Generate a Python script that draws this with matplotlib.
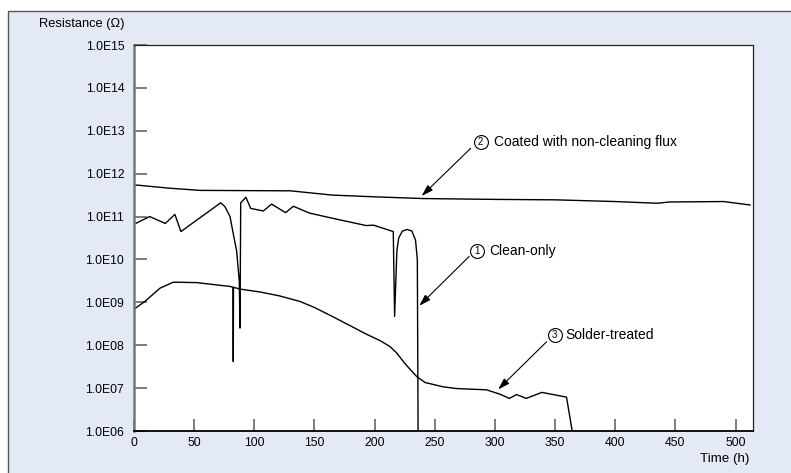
import matplotlib
matplotlib.use("Agg")
import matplotlib.pyplot as plt
from matplotlib.patches import Rectangle
import numpy as np

plt.rcParams['font.family'] = ['Liberation Sans', 'DejaVu Sans']

# ---------------- data (log10 of resistance) ----------------
clean_x = [0, 13, 26, 34, 39, 72, 75.6, 79.8, 82.5, 85.3, 87.5, 88.1, 88.7, 93, 97,
           107.5, 114.4, 126, 132.4, 146, 165, 193, 199, 215.5, 216.6, 218.5, 220,
           223, 227, 231, 234, 235.5, 236.2]
clean_log = [10.82, 11.0, 10.84, 11.05, 10.65, 11.32, 11.23, 11.0, 10.6, 10.2, 9.5,
             8.4, 11.32, 11.45, 11.19, 11.13, 11.29, 11.09, 11.24, 11.08, 10.96,
             10.79, 10.80, 10.65, 8.67, 10.2, 10.5, 10.66, 10.70, 10.66, 10.45,
             10.0, 5.5]

coated_x = [0, 30, 55, 130, 165, 200, 240, 300, 350, 400, 435, 445, 490, 512]
coated_log = [11.74, 11.66, 11.61, 11.60, 11.50, 11.46, 11.42, 11.40, 11.39, 11.35,
              11.31, 11.34, 11.35, 11.27]

solder_x = [0, 9, 21.6, 32.7, 52, 80, 82.3, 82.5, 82.7, 88, 105, 121, 138, 150,
            165.6, 180, 193, 205, 212.7, 218, 225, 230, 235, 242, 257, 268, 293,
            304, 312, 318, 326, 339, 359.5, 366]
solder_log = [8.84, 9.02, 9.33, 9.47, 9.46, 9.37, 9.35, 7.62, 9.35, 9.31, 9.24, 9.15,
              9.02, 8.88, 8.66, 8.45, 8.26, 8.10, 7.97, 7.83, 7.58, 7.42, 7.27, 7.13,
              7.03, 6.99, 6.96, 6.86, 6.76, 6.85, 6.76, 6.90, 6.79, 5.7]

ytick_exp = [6, 7, 8, 9, 10, 11, 12, 13, 14, 15]
ytick_labels = ["1.0E06", "1.0E07", "1.0E08", "1.0E09", "1.0E10", "1.0E11",
                "1.0E12", "1.0E13", "1.0E14", "1.0E15"]
xticks = [0, 50, 100, 150, 200, 250, 300, 350, 400, 450, 500]

labels = ["Coated with non-cleaning flux", "Clean-only", "Solder-treated"]
label_nums = ["2", "1", "3"]

# ---------------- figure ----------------
W, H = 791, 473
fig = plt.figure(figsize=(W / 100, H / 100), dpi=100)
bg = '#e3eaf5'
fig.patch.set_facecolor('white')
fig.patches.append(Rectangle((8 / W, -0.1), 1.2, 1.1 - 11 / H,
                             transform=fig.transFigure, facecolor=bg,
                             edgecolor='#555555', linewidth=1.0, zorder=-10))

ax = fig.add_axes([134 / W, 1 - 431 / H, (753 - 134) / W, (431 - 45) / H])
ax.set_facecolor('white')
ax.set_yscale('log')
ax.set_xlim(0, 514.5)
ax.set_ylim(1e6, 1e15)

lw = 1.0
ax.plot(clean_x, 10 ** np.array(clean_log), color='black', lw=lw)
ax.plot(coated_x, 10 ** np.array(coated_log), color='black', lw=lw)
ax.plot(solder_x, 10 ** np.array(solder_log), color='black', lw=lw)

ax.set_yticks([10.0 ** e for e in ytick_exp])
ax.set_yticklabels(ytick_labels)
ax.yaxis.set_minor_locator(matplotlib.ticker.NullLocator())
ax.set_xticks(xticks)
ax.set_xticklabels([str(v) for v in xticks])

ax.tick_params(axis='y', direction='in', length=9, width=1.2, color='#666666',
               labelsize=8.8, pad=7)
ax.tick_params(axis='x', direction='in', length=9, width=1.2, color='#666666',
               labelsize=8.8, pad=4.5)

for s in ['top', 'right']:
    ax.spines[s].set_color('#222222')
    ax.spines[s].set_linewidth(0.9)
ax.spines['left'].set_color('#777777')
ax.spines['left'].set_linewidth(1.8)
ax.spines['bottom'].set_color('black')
ax.spines['bottom'].set_linewidth(1.3)

# ---------------- annotations ----------------
# (circle x, circle log y, text x, arrow tail x, tail log, tip x, tip log)
ann = [
    (288.1, 12.746, 299.0, 279.8, 12.59, 239.1, 11.48),
    (285.3, 10.198, 295.0, 278.6, 10.07, 237.1, 8.92),
    (349.8, 8.24, 358.8, 342.9, 8.08, 302.7, 6.97),
]
for (cx, cy, tx, ax0, ay0, ax1, ay1), lab, num in zip(ann, labels, label_nums):
    ax.plot([cx], [10 ** cy], marker='o', ms=10, mfc='white', mec='black',
            mew=0.8, zorder=5, clip_on=False)
    ax.text(cx, 10 ** cy, num, ha='center', va='center', fontsize=7, zorder=6)
    ax.text(tx, 10 ** cy, lab, ha='left', va='center', fontsize=10)
    ax.annotate('', xy=(ax1, 10 ** ay1), xytext=(ax0, 10 ** ay0),
                arrowprops=dict(arrowstyle='-|>,head_length=0.7,head_width=0.22',
                                color='black', lw=0.8, shrinkA=0, shrinkB=0))

fig.text(39 / W, 1 - 24 / H, "Resistance (\u03a9)", ha='left', va='center',
         fontsize=9.3)
fig.text(749 / W, 1 - 459 / H, "Time (h)", ha='right', va='center', fontsize=9.6)

fig.savefig('out.png', dpi=100, facecolor=fig.get_facecolor())
